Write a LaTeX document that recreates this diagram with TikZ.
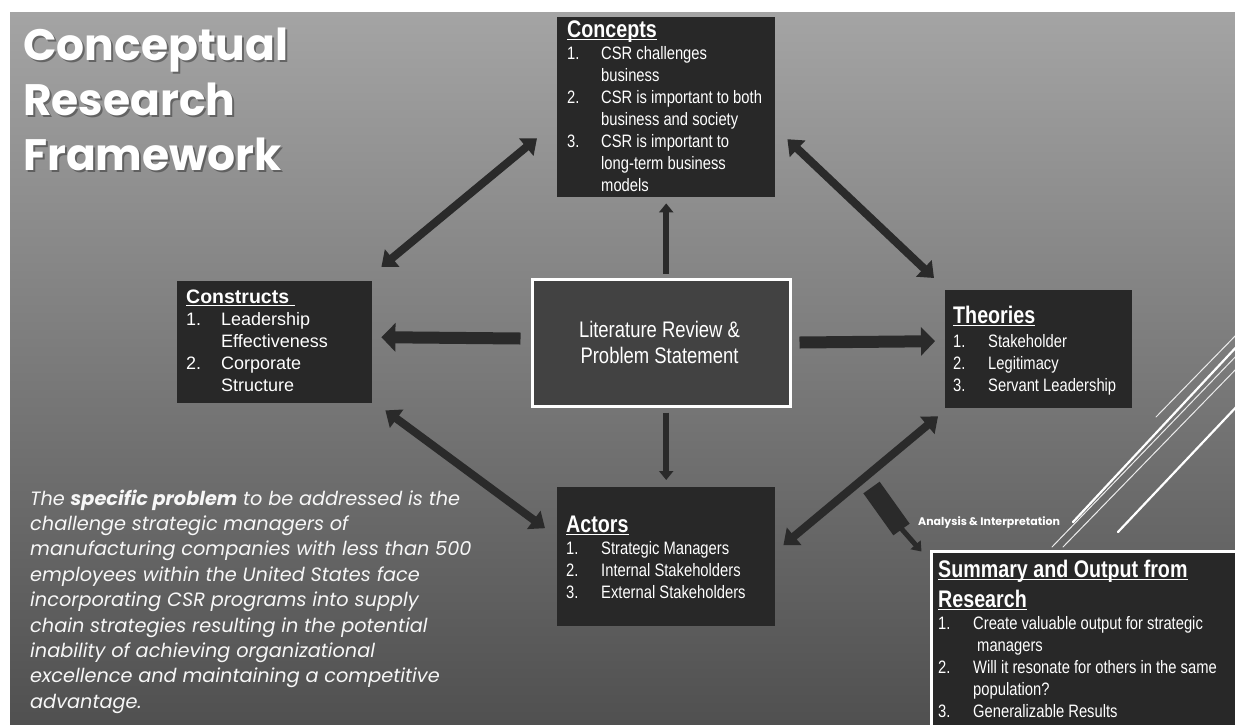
\documentclass[tikz,border=0pt]{standalone}
\usepackage{fontspec}
\setmainfont{Liberation Sans}
\newfontfamily\narrowfont[FakeStretch=0.82]{Liberation Sans}
\newfontfamily\gothic{Poppins}
\usetikzlibrary{arrows.meta,calc}
\definecolor{bgtop}{HTML}{A4A4A4}
\definecolor{bgbot}{HTML}{505050}
\definecolor{boxc}{HTML}{282828}
\definecolor{litc}{HTML}{424242}
\definecolor{arrc}{HTML}{2A2A2A}
\newsavebox\hdbox
\newcommand\hdline[1]{\sbox\hdbox{#1}\rlap{\rule[-3pt]{\wd\hdbox}{1.5pt}}\usebox\hdbox}
\newcommand\hdfont{\narrowfont\bfseries\fontsize{24}{22}\selectfont}
\tikzset{
  darkbox/.style={fill=boxc, draw=none, inner sep=0pt, anchor=north west},
  framebox/.style={draw=white, line width=3pt, inner sep=0pt, anchor=north west},
  boxtext/.style={text=white, inner sep=0pt, anchor=base west, font=\narrowfont\fontsize{18}{22}\selectfont},
  dbl/.style={draw=arrc, line width=8pt, {Triangle[length=14pt,width=22pt]}-{Triangle[length=14pt,width=22pt]}},
  hbig/.style={draw=arrc, line width=12pt, -{Triangle[length=14pt,width=28pt]}},
  vsmall/.style={draw=arrc, line width=6pt, -{Triangle[length=9pt,width=14pt]}},
  deco/.style={draw=white, line cap=round},
}
\begin{document}
\begin{tikzpicture}[x=1pt,y=-1pt]
\useasboundingbox (0,0) rectangle (1235,724);
\fill[white] (0,0) rectangle (1235,724);
\shade[top color=bgtop, bottom color=bgbot] (10,12) rectangle (1235,724);
% decorative lines
\begin{scope}
\clip (10,12) rectangle (1235,724);
\draw[deco, draw=white!85!gray, line width=1pt] (1156,417) -- (1240,331);
\draw[deco, line width=2.2pt] (1073,522) -- (1240,343);
\draw[deco, draw=white!85!gray, line width=1pt] (1052,547) -- (1240,352);
\draw[deco, draw=white!85!gray, line width=1pt] (1063,547) -- (1240,365);
\draw[deco, line width=2.2pt] (1118,532) -- (1240,403);
\end{scope}
% title
\node[anchor=base west, inner sep=0pt, text=black!75, opacity=0.6, font=\gothic\bfseries\fontsize{44}{55}\selectfont] (titleshadow) at (25,62)
 {\begin{tabular}[t]{@{}l@{}}Conceptual\\Research\\Framework\end{tabular}};
\node[anchor=base west, inner sep=0pt, text=white, font=\gothic\bfseries\fontsize{44}{55}\selectfont] (title) at (23,60)
 {\begin{tabular}[t]{@{}l@{}}Conceptual\\Research\\Framework\end{tabular}};
% boxes
\node[darkbox, minimum width=218pt, minimum height=180pt] (concepts) at (557,17) {};
\node[darkbox, minimum width=195pt, minimum height=122pt] (constructs) at (177,281) {};
\node[darkbox, minimum width=187pt, minimum height=118pt] (theories) at (945,290) {};
\node[darkbox, minimum width=218pt, minimum height=139pt] (actors) at (557,487) {};
\node[framebox, fill=litc, minimum width=258pt, minimum height=127pt] (lit) at (530.5,277.5) {};
\node[framebox, fill=boxc, minimum width=320pt, minimum height=190pt] (summary) at (929.5,549.5) {};
% texts
\node[boxtext] (conceptsT) at (567,37) {\begin{tabular}[t]{@{}p{34pt}@{}l@{}}
\multicolumn{2}{@{}l@{}}{\hdfont\hdline{Concepts}}\\
1. & CSR challenges\\
 & business\\
2. & CSR is important to both\\
 & business and society\\
3. & CSR is important to\\
 & long-term business\\
 & models
\end{tabular}};
\node[boxtext, font=\fontsize{18}{22}\selectfont] (constructsT) at (186,303) {\begin{tabular}[t]{@{}p{35pt}@{}l@{}}
\multicolumn{2}{@{}l@{}}{\bfseries\fontsize{19.5}{22}\selectfont\hdline{Constructs\ }}\\
1. & Leadership\\
 & Effectiveness\\
2. & Corporate\\
 & Structure
\end{tabular}};
\node[boxtext] (theoriesT) at (953,323) {\begin{tabular}[t]{@{}p{35pt}@{}l@{}}
\multicolumn{2}{@{}l@{}}{\hdfont\hdline{Theories}}\\[2pt]
1. & Stakeholder\\
2. & Legitimacy\\
3. & Servant Leadership
\end{tabular}};
\node[boxtext] (actorsT) at (566,532) {\begin{tabular}[t]{@{}p{35pt}@{}l@{}}
\multicolumn{2}{@{}l@{}}{\hdfont\hdline{Actors}}\\
1. & Strategic Managers\\
2. & Internal Stakeholders\\
3. & External Stakeholders
\end{tabular}};
\node[boxtext] (summaryT) at (938,577) {\begin{tabular}[t]{@{}p{35pt}@{}l@{}}
\multicolumn{2}{@{}l@{}}{\hdfont\hdline{Summary and Output from}}\\[6pt]
\multicolumn{2}{@{}l@{}}{\hdfont\hdline{Research}}\\
1. & Create valuable output for strategic\\
 & \hspace{4pt}managers\\
2. & Will it resonate for others in the same\\
 & population?\\
3. & Generalizable Results
\end{tabular}};
\node[text=white, inner sep=0pt, anchor=base, font=\narrowfont\fontsize{22.5}{26}\selectfont] (litT) at (659.5,337)
 {\begin{tabular}[t]{@{}c@{}}Literature Review \&\\Problem Statement\end{tabular}};
% problem statement
\node[text=white!94!gray, inner sep=0pt, anchor=base west, font=\gothic\itshape\fontsize{19.3}{25.4}\selectfont] (problem) at (30,505)
 {\begin{tabular}[t]{@{}l@{}}
The \textbf{specific problem} to be addressed is the\\
challenge strategic managers of\\
manufacturing companies with less than 500\\
employees within the United States face\\
incorporating CSR programs into supply\\
chain strategies resulting in the potential\\
inability of achieving organizational\\
excellence and maintaining a competitive\\
advantage.
\end{tabular}};
% arrows
\draw[dbl] ($(constructs.north east)+(9,-14)$) -- ($(concepts.west)+(-20,31)$);
\draw[dbl] ($(concepts.east)+(12,32)$) -- ($(theories.north west)+(-11,-12)$);
\draw[dbl] ($(constructs.south east)+(13,7)$) -- ($(actors.west)+(-12,-28.5)$);
\draw[dbl] ($(actors.east)+(8,-11.5)$) -- ($(theories.south west)+(-7,8)$);
\draw[vsmall] ($(concepts.south |- lit.north)+(0,-4)$) -- ($(concepts.south)+(0,6)$);
\draw[vsmall] ($(actors.north |- lit.south)+(0,5)$) -- ($(actors.north)+(0,-7)$);
\draw[hbig] ($(lit.west)+(-10,-4)$) -- ($(constructs.east)+(9,-5)$);
\draw[hbig] ($(lit.east)+(8,0)$) -- ($(theories.west)+(-10,-8)$);
% analysis arrow
\coordinate (anaS) at (871.5,487.5);
\coordinate (anaM) at (901.5,529.5);
\draw[draw=arrc, line width=20pt] (anaS) -- (anaM);
\draw[draw=arrc, line width=5pt, -{Triangle[length=9pt,width=13pt]}] ($(anaM)+(-2,-3)$) -- ($(summary.north west)+(-8,2)$);
\node[text=white, inner sep=0pt, anchor=base west, font=\gothic\bfseries\fontsize{11}{13}\selectfont] (anaT) at (918,525) {Analysis \& Interpretation};
\end{tikzpicture}
\end{document}
